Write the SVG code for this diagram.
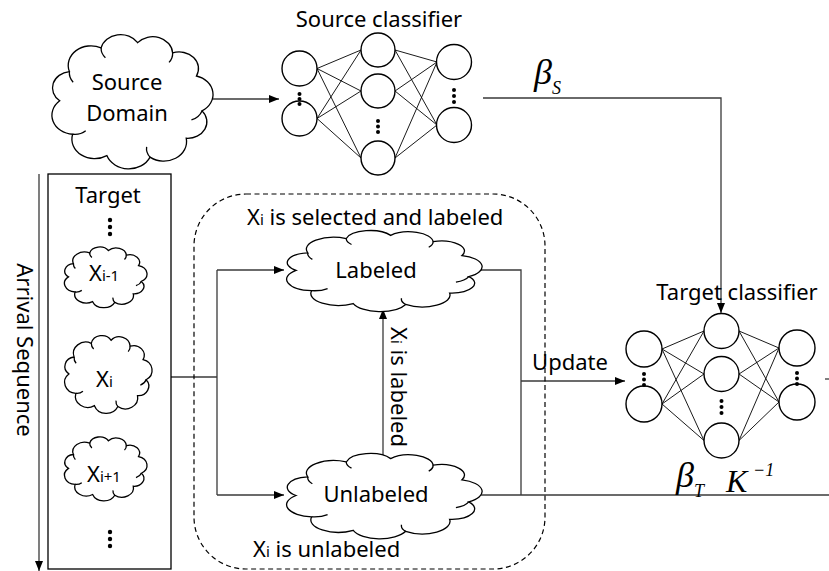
<svg xmlns="http://www.w3.org/2000/svg" xmlns:xlink="http://www.w3.org/1999/xlink" width="829" height="571" viewBox="0 0 829 571">
  <style>
    .txt { font-family: "Noto Sans", "Open Sans", sans-serif; font-size: 22px; fill: #000; }
    .mid { text-anchor: middle; }
    .math { font-family: "Liberation Serif", "Times New Roman", serif; font-style: italic; fill: #000; }
    .cloud { fill: #fff; stroke: #000; stroke-width: 1.3; vector-effect: non-scaling-stroke; }
    .crease { fill: none; stroke: #000; stroke-width: 1.3; vector-effect: non-scaling-stroke; }
    .conn { fill: none; stroke: #3a3a3a; stroke-width: 1.3; }
    .arr { marker-end: url(#ah); }
    .neuron { fill: #fff; stroke: #000; stroke-width: 1.4; }
    .syn { stroke: #000; stroke-width: 0.9; }
    .dot { fill: #000; }
    .box { fill: #fff; stroke: #000; stroke-width: 1.3; }
    .dash { fill: none; stroke: #000; stroke-width: 1.2; stroke-dasharray: 5 3.5; }
  </style>
  <defs>
    <marker id="ah" markerUnits="userSpaceOnUse" markerWidth="10" markerHeight="10" viewBox="0 0 10 10" refX="10" refY="5" orient="auto">
      <path d="M0,1 L10,5 L0,9 Z" fill="#000"/>
    </marker>
    <!-- generic cloud outline in a 100x100 box -->
    <g id="cloudShape">
      <path class="cloud" d="M10,50 A10.7,10.7 0 0 1 15.4,31 A12.7,12.7 0 0 1 33.1,15.6 A11.2,11.2 0 0 1 53.5,12.2 A11.1,11.1 0 0 1 73,18.9 A10.8,10.8 0 0 1 86.3,33.9 A12.4,12.4 0 0 1 89.4,56.6 A10.7,10.7 0 0 1 80.6,74.4 A12.7,12.7 0 0 1 60.4,86.7 A13,13 0 0 1 36.3,85.7 A12.7,12.7 0 0 1 17.2,71.8 A12.4,12.4 0 0 1 10,50 Z"/>
      <path class="crease" d="M15.4,31 A10,10 0 0 0 17.5,38 M33.1,15.6 A9,9 0 0 0 35.5,22 M73,18.9 A9,9 0 0 1 71,25 M89.4,56.6 A10,10 0 0 1 83.5,62.5 M60.4,86.7 A9,9 0 0 1 58.5,80 M17.2,71.8 A9,9 0 0 0 24.5,69.5"/>
    </g>
  </defs>

  <rect width="829" height="571" fill="#fff"/>

  <!-- connectors -->
  <g id="connectors">
    <line class="conn arr" x1="213" y1="99" x2="279" y2="99"/>
    <polyline class="conn arr" points="483,98 721,98 721,313"/>
    <line class="conn" x1="152" y1="377" x2="217" y2="377"/>
    <line class="conn" x1="217" y1="270" x2="217" y2="495"/>
    <line class="conn arr" x1="217" y1="270" x2="284" y2="270"/>
    <line class="conn arr" x1="217" y1="495" x2="284" y2="495"/>
    <line class="conn arr" x1="383" y1="457" x2="383" y2="309"/>
    <polyline class="conn" points="481,270 521,270 521,495"/>
    <line class="conn" x1="480" y1="495" x2="829" y2="495"/>
    <line class="conn arr" x1="521" y1="381" x2="625" y2="381"/>
    <line class="conn arr" x1="39" y1="174" x2="39" y2="571"/>
    <line class="conn" x1="825" y1="379" x2="829" y2="379"/>
  </g>

  <!-- source domain -->
  <g id="source-domain">
    <use xlink:href="#cloudShape" transform="translate(41.8,23.9) scale(1.792,1.537)"/>
    <text class="txt mid" x="127" y="90" font-size="23">Source</text>
    <text class="txt mid" x="127" y="121" font-size="23">Domain</text>
  </g>

  <!-- source classifier -->
  <g id="source-classifier">
    <text class="txt mid" x="379" y="27">Source classifier</text>
    <g>
      <line class="syn" x1="317" y1="68.5" x2="361" y2="50"/>
      <line class="syn" x1="317" y1="68.5" x2="361" y2="91"/>
      <line class="syn" x1="317" y1="68.5" x2="361" y2="158"/>
      <line class="syn" x1="317" y1="118.5" x2="361" y2="50"/>
      <line class="syn" x1="317" y1="118.5" x2="361" y2="91"/>
      <line class="syn" x1="317" y1="118.5" x2="361" y2="158"/>
      <line class="syn" x1="395" y1="50" x2="437" y2="62"/>
      <line class="syn" x1="395" y1="50" x2="437" y2="125"/>
      <line class="syn" x1="395" y1="91" x2="437" y2="62"/>
      <line class="syn" x1="395" y1="91" x2="437" y2="125"/>
      <line class="syn" x1="395" y1="158" x2="437" y2="62"/>
      <line class="syn" x1="395" y1="158" x2="437" y2="125"/>
    </g>
    <circle class="neuron" cx="299.5" cy="68.5" r="17.5"/>
    <circle class="neuron" cx="299.5" cy="118.5" r="17.5"/>
    <circle class="neuron" cx="378" cy="50" r="17"/>
    <circle class="neuron" cx="378" cy="91" r="17"/>
    <circle class="neuron" cx="378" cy="158" r="17"/>
    <circle class="neuron" cx="454" cy="62" r="17.5"/>
    <circle class="neuron" cx="454" cy="125" r="17.5"/>
    <circle class="dot" cx="299.5" cy="94" r="2"/>
    <circle class="dot" cx="299.5" cy="99" r="2"/>
    <circle class="dot" cx="299.5" cy="104" r="2"/>
    <circle class="dot" cx="378" cy="121" r="2"/>
    <circle class="dot" cx="378" cy="126.5" r="2"/>
    <circle class="dot" cx="378" cy="132" r="2"/>
    <circle class="dot" cx="454" cy="90" r="2"/>
    <circle class="dot" cx="454" cy="96" r="2"/>
    <circle class="dot" cx="454" cy="102" r="2"/>
  </g>

  <!-- beta_S label -->
  <g id="beta-s">
    <text class="math" x="534" y="84" font-size="36">β<tspan dy="10" font-size="18">S</tspan></text>
  </g>

  <!-- target stream -->
  <g id="target">
    <rect class="box" x="48" y="174" width="123" height="395"/>
    <text class="txt mid" x="108" y="203">Target</text>
    <circle class="dot" cx="110" cy="220" r="2.2"/>
    <circle class="dot" cx="110" cy="227" r="2.2"/>
    <circle class="dot" cx="110" cy="234" r="2.2"/>
    <circle class="dot" cx="110" cy="532" r="2.2"/>
    <circle class="dot" cx="110" cy="539" r="2.2"/>
    <circle class="dot" cx="110" cy="546" r="2.2"/>
  </g>
  <g id="x-prev">
    <use xlink:href="#cloudShape" transform="translate(59.3,242.1) scale(0.918,0.695)"/>
    <text class="txt" x="89" y="281">X<tspan font-size="15">i-1</tspan></text>
  </g>
  <g id="x-cur">
    <use xlink:href="#cloudShape" transform="translate(59.1,329.4) scale(0.973,0.89)"/>
    <text class="txt" x="96" y="387">X<tspan font-size="15">i</tspan></text>
  </g>
  <g id="x-next">
    <use xlink:href="#cloudShape" transform="translate(59.3,431.8) scale(0.918,0.732)"/>
    <text class="txt" x="87" y="482">X<tspan font-size="15">i+1</tspan></text>
  </g>

  <text class="txt mid" font-size="21" transform="translate(17,350) rotate(90)">Arrival Sequence</text>

  <!-- active learning block -->
  <g id="selection">
    <rect class="dash" x="194" y="194" width="351" height="375" rx="52" ry="52"/>
    <text class="txt" x="247" y="225">X<tspan font-size="15">i</tspan> is selected and labeled</text>
    <text class="txt" x="253" y="557">X<tspan font-size="15">i</tspan> is unlabeled</text>
    <text class="txt mid" transform="translate(391,387) rotate(90)">X<tspan font-size="15">i</tspan> is labeled</text>
  </g>
  <g id="labeled">
    <use xlink:href="#cloudShape" transform="translate(274.3,224.1) scale(2.175,0.927)"/>
    <text class="txt mid" x="376" y="278">Labeled</text>
  </g>
  <g id="unlabeled">
    <use xlink:href="#cloudShape" transform="translate(274.3,446.7) scale(2.175,0.976)"/>
    <text class="txt mid" x="376" y="502">Unlabeled</text>
  </g>

  <text class="txt mid" x="570" y="370">Update</text>

  <!-- target classifier -->
  <g id="target-classifier">
    <text class="txt mid" x="737" y="300">Target classifier</text>
    <g>
      <line class="syn" x1="662" y1="349" x2="704" y2="331"/>
      <line class="syn" x1="662" y1="349" x2="704" y2="374"/>
      <line class="syn" x1="662" y1="349" x2="704" y2="440.5"/>
      <line class="syn" x1="662" y1="404" x2="704" y2="331"/>
      <line class="syn" x1="662" y1="404" x2="704" y2="374"/>
      <line class="syn" x1="662" y1="404" x2="704" y2="440.5"/>
      <line class="syn" x1="739" y1="331" x2="779" y2="348"/>
      <line class="syn" x1="739" y1="331" x2="779" y2="402"/>
      <line class="syn" x1="739" y1="374" x2="779" y2="348"/>
      <line class="syn" x1="739" y1="374" x2="779" y2="402"/>
      <line class="syn" x1="739" y1="440.5" x2="779" y2="348"/>
      <line class="syn" x1="739" y1="440.5" x2="779" y2="402"/>
    </g>
    <circle class="neuron" cx="644" cy="349" r="18"/>
    <circle class="neuron" cx="644" cy="404" r="18"/>
    <circle class="neuron" cx="721.5" cy="331" r="17.5"/>
    <circle class="neuron" cx="721.5" cy="374" r="17.5"/>
    <circle class="neuron" cx="721.5" cy="440.5" r="17.5"/>
    <circle class="neuron" cx="797" cy="348" r="18"/>
    <circle class="neuron" cx="797" cy="402" r="18"/>
    <circle class="dot" cx="644" cy="374" r="2"/>
    <circle class="dot" cx="644" cy="379.5" r="2"/>
    <circle class="dot" cx="644" cy="385" r="2"/>
    <circle class="dot" cx="721.5" cy="401" r="2"/>
    <circle class="dot" cx="721.5" cy="407" r="2"/>
    <circle class="dot" cx="721.5" cy="413" r="2"/>
    <circle class="dot" cx="797" cy="373" r="2"/>
    <circle class="dot" cx="797" cy="378.5" r="2"/>
    <circle class="dot" cx="797" cy="384" r="2"/>
  </g>

  <!-- beta_T K^-1 label -->
  <g id="beta-t">
    <text class="math" x="676" y="487" font-size="36">β<tspan dy="10" font-size="18">T</tspan></text>
    <text class="math" x="726" y="492" font-size="32">K</text>
    <text class="math" x="753" y="476" font-size="18" font-style="normal">−1</text>
  </g>
</svg>
